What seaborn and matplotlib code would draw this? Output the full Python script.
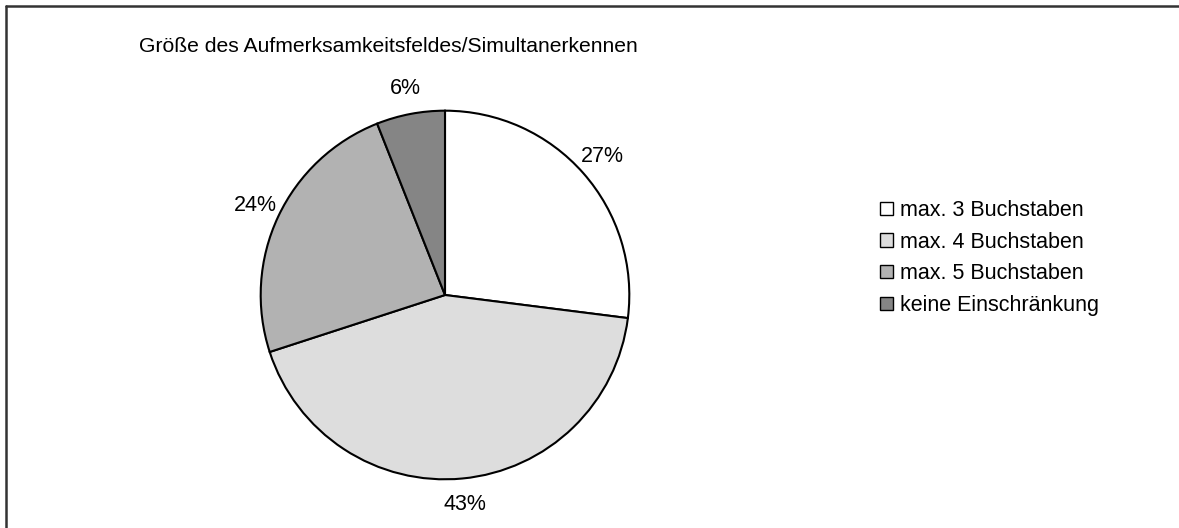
import matplotlib
matplotlib.use("Agg")
import matplotlib.pyplot as plt
import seaborn as sns
from matplotlib.lines import Line2D
from matplotlib.patches import Patch

TITLE = "Größe des Aufmerksamkeitsfeldes/Simultanerkennen"
CATEGORIES = ["max. 3 Buchstaben", "max. 4 Buchstaben", "max. 5 Buchstaben", "keine Einschränkung"]
SHARES = [27, 43, 24, 6]
COLORS = ["#FFFFFF", "#DDDDDD", "#B2B2B2", "#858585"]


def main() -> None:
    sns.set_theme(style="white")
    plt.rcParams["font.family"] = ["Liberation Sans", "DejaVu Sans"]
    plt.rcParams["text.color"] = "black"

    fig = plt.figure(figsize=(11.79, 5.28), dpi=100)
    fig.patch.set_facecolor("white")

    # frame: only top and left edges visible in the original
    fig.add_artist(Line2D([6 / 1179, 1.2], [1 - 6 / 528, 1 - 6 / 528], color="#333333", lw=1.8,
                          transform=fig.transFigure))
    fig.add_artist(Line2D([6 / 1179, 6 / 1179], [-0.2, 1 - 6 / 528], color="#333333", lw=1.8,
                          transform=fig.transFigure))

    cx, cy, r = 445, 295, 188
    ax = fig.add_axes([(cx - r) / 1179, (528 - cy - r) / 528, 2 * r / 1179, 2 * r / 528])
    ax.pie(
        SHARES,
        colors=COLORS,
        startangle=90,
        counterclock=False,
        autopct=lambda p: f"{p:.0f}%",
        pctdistance=1.14,
        wedgeprops={"edgecolor": "black", "linewidth": 1.5},
        textprops={"fontsize": 15.5, "color": "black"},
    )
    ax.set_xlim(-1.02, 1.02)
    ax.set_ylim(-1.02, 1.02)
    ax.set_aspect("equal")
    ax.axis("off")

    fig.text(139 / 1179, 1 - 47 / 528, TITLE, fontsize=15.2, ha="left", va="center", color="black")

    handles = [Patch(facecolor=c, edgecolor="black", linewidth=1.0) for c in COLORS]
    fig.legend(
        handles,
        CATEGORIES,
        loc="center left",
        bbox_to_anchor=(861 / 1179, 1 - 258 / 528),
        frameon=False,
        fontsize=15.5,
        handlelength=0.58,
        handleheight=0.58,
        handletextpad=0.35,
        labelspacing=0.5,
    )

    fig.savefig("out.png", dpi=100)
    plt.close(fig)


if __name__ == "__main__":
    main()
